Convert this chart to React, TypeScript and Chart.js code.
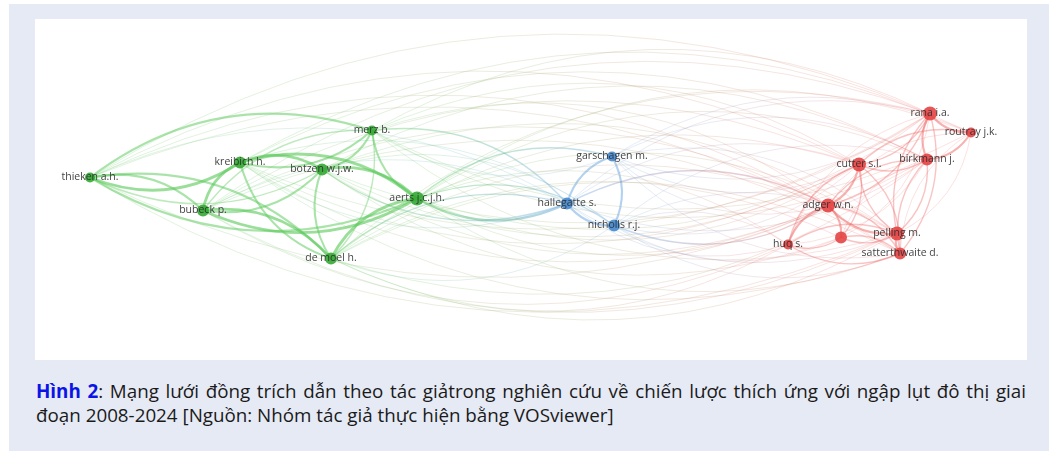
import React, { useEffect, useRef } from "react";
import { Chart, registerables } from "chart.js";

Chart.register(...registerables);

// Node labels (VOSviewer co-citation map)
const nodeLabels: string[] = [
  "thieken a.h.", "kreibich h.", "bubeck p.", "botzen w.j.w.", "merz b.", "aerts j.c.j.h.", "de moel h.",
  "garschagen m.", "hallegatte s.", "nicholls r.j.",
  "rana i.a.", "routray j.k.", "cutter s.l.", "birkmann j.", "adger w.n.", "huq s.", "", "pelling m.", "satterthwaite d.",
];
// Map coordinates
const nodeX: number[] = [-4.41, -2.91, -3.28, -2.09, -1.59, -1.14, -2.0, 0.81, 0.36, 0.83, 3.99, 4.4, 3.28, 3.96, 2.97, 2.57, 3.1, 3.66, 3.69];
const nodeY: number[] = [0.12, 0.27, -0.21, 0.2, 0.59, -0.09, -0.69, 0.33, -0.14, -0.36, 0.76, 0.57, 0.25, 0.3, -0.16, -0.55, -0.48, -0.44, -0.64];
// Cluster: 0 green, 1 blue, 2 red
const nodeCluster: number[] = [0, 0, 0, 0, 0, 0, 0, 1, 1, 1, 2, 2, 2, 2, 2, 2, 2, 2, 2];
// Node weight (circle size)
const nodeSize: number[] = [5, 6, 6, 6, 5, 7, 6, 5, 6, 6, 7, 5, 7, 6, 7, 5, 6, 7, 6];

// Links: [source, target, strength]
const links: [number, number, number][] = [
  [0, 1, 4], [0, 2, 3], [0, 3, 2], [0, 4, 3], [0, 5, 3], [0, 6, 3],
  [1, 2, 4], [1, 3, 4], [1, 4, 3], [1, 5, 4], [1, 6, 3],
  [2, 3, 3], [2, 4, 2], [2, 5, 4], [2, 6, 4],
  [3, 4, 3], [3, 5, 4], [3, 6, 3],
  [4, 5, 3], [4, 6, 2], [5, 6, 4],
  [7, 8, 3], [7, 9, 3], [8, 9, 3],
  [5, 8, 3], [5, 9, 2], [5, 7, 2], [4, 8, 2], [3, 8, 2], [1, 8, 1], [6, 8, 2], [6, 9, 1], [4, 7, 1], [3, 9, 1], [2, 8, 1], [0, 8, 1], [1, 9, 1],
  [10, 11, 3], [10, 12, 2], [10, 13, 3], [10, 14, 2], [10, 17, 2], [10, 18, 2], [11, 13, 3], [11, 12, 2], [11, 17, 1], [11, 18, 1],
  [12, 13, 2], [12, 14, 3], [12, 17, 2], [12, 18, 2], [12, 15, 2], [12, 16, 2], [13, 14, 2], [13, 17, 2], [13, 18, 2], [13, 16, 1],
  [14, 15, 3], [14, 16, 3], [14, 17, 3], [14, 18, 2], [15, 16, 2], [15, 17, 2], [15, 18, 2], [16, 17, 2], [16, 18, 2], [17, 18, 3],
  [13, 15, 1], [10, 15, 1], [10, 16, 1], [11, 14, 1],
  [7, 10, 1], [7, 12, 1], [7, 13, 1], [7, 14, 1], [7, 17, 1], [8, 12, 1], [8, 14, 2], [8, 10, 1], [8, 17, 1], [8, 15, 1],
  [9, 14, 2], [9, 15, 1], [9, 12, 1], [9, 13, 1], [9, 18, 1], [9, 16, 1], [7, 11, 1], [8, 13, 1], [7, 18, 1], [9, 17, 1],
  [0, 10, 1], [0, 12, 1], [0, 14, 1], [0, 17, 1], [0, 13, 1], [0, 18, 1],
  [1, 10, 1], [1, 12, 1], [1, 13, 1], [1, 14, 1], [1, 18, 1], [1, 11, 1],
  [2, 12, 1], [2, 14, 1], [2, 15, 1], [2, 17, 1], [2, 10, 1], [2, 18, 1],
  [3, 10, 1], [3, 12, 1], [3, 13, 1], [3, 14, 1], [3, 16, 1], [3, 17, 1],
  [4, 10, 1], [4, 11, 1], [4, 12, 1], [4, 13, 1], [4, 14, 1], [4, 17, 1],
  [5, 10, 1], [5, 12, 1], [5, 13, 1], [5, 14, 1], [5, 15, 1], [5, 17, 1], [5, 18, 1], [5, 11, 1],
  [6, 12, 1], [6, 14, 1], [6, 15, 1], [6, 16, 1], [6, 17, 1], [6, 18, 1], [6, 10, 1], [6, 13, 1],
];

const nodeRGB = ["52,168,52", "68,136,206", "228,68,68"];
const edgeRGB = ["92,202,92", "108,168,226", "240,106,106"];
const edgeAlpha = [0, 0.25, 0.4, 0.52, 0.62];
const edgeWidth = [0, 0.8, 1.4, 2.1, 2.8];

const edgePlugin = {
  id: "vosEdges",
  beforeDatasetsDraw(chart: any) {
    const { ctx, scales } = chart;
    const xs = scales.x;
    const ys = scales.y;
    ctx.save();
    ctx.lineCap = "round";
    links.forEach(([s, t, w]) => {
      const x0 = xs.getPixelForValue(nodeX[s]);
      const y0 = ys.getPixelForValue(nodeY[s]);
      const x1 = xs.getPixelForValue(nodeX[t]);
      const y1 = ys.getPixelForValue(nodeY[t]);
      const dx = x1 - x0;
      const dy = y1 - y0;
      const sign = (s + t) % 2 === 0 ? -1 : 1;
      const k = 0.26 * sign;
      const cx = (x0 + x1) / 2 + -dy * k;
      const cy = (y0 + y1) / 2 + dx * k;
      const a = edgeAlpha[w];
      const g = ctx.createLinearGradient(x0, y0, x1, y1);
      g.addColorStop(0, `rgba(${edgeRGB[nodeCluster[s]]},${a})`);
      g.addColorStop(1, `rgba(${edgeRGB[nodeCluster[t]]},${a})`);
      ctx.strokeStyle = g;
      ctx.lineWidth = edgeWidth[w];
      ctx.beginPath();
      ctx.moveTo(x0, y0);
      ctx.quadraticCurveTo(cx, cy, x1, y1);
      ctx.stroke();
    });
    ctx.restore();
  },
  afterDatasetsDraw(chart: any) {
    const { ctx, scales } = chart;
    ctx.save();
    ctx.font = "10.5px 'Open Sans'";
    ctx.textAlign = "center";
    ctx.textBaseline = "middle";
    ctx.fillStyle = "rgba(45,45,45,0.9)";
    nodeLabels.forEach((lab, i) => {
      if (!lab) return;
      ctx.fillText(lab, scales.x.getPixelForValue(nodeX[i]), scales.y.getPixelForValue(nodeY[i]));
    });
    ctx.restore();
  },
};

function App() {
  const ref = useRef<HTMLCanvasElement | null>(null);
  useEffect(() => {
    if (!ref.current) return;
    const chart = new Chart(ref.current, {
      type: "scatter",
      data: {
        datasets: [
          {
            data: nodeX.map((x, i) => ({ x, y: nodeY[i] })),
            pointRadius: nodeSize,
            pointHoverRadius: nodeSize,
            pointBackgroundColor: nodeCluster.map((c) => `rgba(${nodeRGB[c]},0.9)`),
            pointBorderWidth: 0,
            borderWidth: 0,
          },
        ],
      },
      options: {
        animation: false,
        responsive: true,
        maintainAspectRatio: false,
        layout: { padding: 0, autoPadding: false },
        plugins: { legend: { display: false }, tooltip: { enabled: false } },
        scales: {
          x: { display: false, min: -4.96, max: 4.96 },
          y: { display: false, min: -1.705, max: 1.705 },
        },
      },
      plugins: [edgePlugin],
    });
    return () => chart.destroy();
  }, []);

  return (
    <div
      style={{
        position: "absolute",
        left: 9,
        top: 4,
        width: 1040,
        height: 447,
        background: "#e6eaf5",
      }}
    >
      <div
        style={{
          position: "absolute",
          left: 26,
          top: 15,
          width: 992,
          height: 341,
          background: "#ffffff",
        }}
      >
        <canvas ref={ref} />
      </div>
      <div
        style={{
          position: "absolute",
          left: 27,
          top: 375,
          width: 990,
          fontFamily: "'Open Sans', sans-serif",
          fontSize: 18.8,
          lineHeight: "24px",
          color: "#1a1a1a",
        }}
      >
        <div style={{ textAlign: "justify", textAlignLast: "justify", whiteSpace: "nowrap" as any }}>
          <span style={{ color: "#0a14e6", fontWeight: 700 }}>Hình 2</span>: Mạng lưới đồng trích dẫn theo tác giảtrong nghiên cứu về chiến lược thích ứng với ngập lụt đô thị giai
        </div>
        <div style={{ whiteSpace: "nowrap" }}>đoạn 2008-2024 [Nguồn: Nhóm tác giả thực hiện bằng VOSviewer]</div>
      </div>
    </div>
  );
}

export default App;
